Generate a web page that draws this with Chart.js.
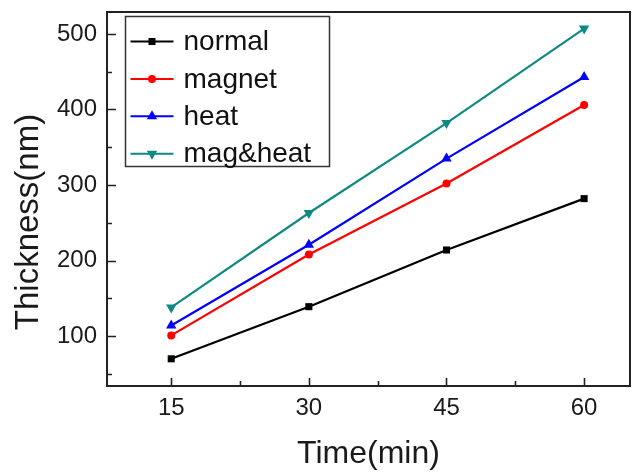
<!DOCTYPE html>
<html>
<head>
<meta charset="utf-8">
<script src="https://cdn.jsdelivr.net/npm/chart.js@4/dist/chart.umd.min.js"></script>
<style>
  html, body { margin: 0; padding: 0; background: #fff; }
  #wrap { width: 636px; height: 475px; }
</style>
</head>
<body>
<div id="wrap"><canvas id="thicknessChart" width="636" height="475"></canvas></div>
<script>
// data
const times = [15, 30, 45, 60];
const normal = [70, 139, 214, 282];
const magnet = [101, 208, 302, 406];
const heat = [114, 221, 335, 443];
const magHeat = [138, 263, 382, 507];

const xTicks = [15, 30, 45, 60];
const xMinor = [22.5, 37.5, 52.5];
const yTicks = [100, 200, 300, 400, 500];
const yMinor = [50, 150, 250, 350, 450];

const seriesNames = ['normal', 'magnet', 'heat', 'mag&heat'];

function toPoints(vals) {
    return times.map((t, i) => ({ x: t, y: vals[i] }));
}

// 마커 그리기 (legend 용)
function drawMarker(ctx, style, x, y, color) {
    ctx.save();
    ctx.fillStyle = color;
    ctx.beginPath();
    if (style === 'rect') {
        ctx.rect(x - 3.5, y - 3.5, 7, 7);
    } else if (style === 'circle') {
        ctx.arc(x, y, 4, 0, Math.PI * 2);
    } else if (style === 'up') {
        ctx.moveTo(x, y - 6);
        ctx.lineTo(x + 5.2, y + 3);
        ctx.lineTo(x - 5.2, y + 3);
    } else {
        ctx.moveTo(x, y + 6);
        ctx.lineTo(x + 5.2, y - 3);
        ctx.lineTo(x - 5.2, y - 3);
    }
    ctx.closePath();
    ctx.fill();
    ctx.restore();
}

const styles = ['rect', 'circle', 'up', 'down'];

// frame, inward ticks, y title and legend box
const framePlugin = {
    id: 'framePlugin',
    afterDraw(chart) {
        const ctx = chart.ctx;
        const a = chart.chartArea;
        const xs = chart.scales.x;
        const ys = chart.scales.y;
        ctx.save();
        ctx.strokeStyle = '#222';
        ctx.lineWidth = 2;
        ctx.strokeRect(a.left, a.top, a.right - a.left, a.bottom - a.top);

        ctx.lineWidth = 1.6;
        ctx.beginPath();
        xTicks.forEach(v => {
            const px = Math.round(xs.getPixelForValue(v)) + 0.5;
            ctx.moveTo(px, a.bottom); ctx.lineTo(px, a.bottom - 8);
        });
        xMinor.forEach(v => {
            const px = Math.round(xs.getPixelForValue(v)) + 0.5;
            ctx.moveTo(px, a.bottom); ctx.lineTo(px, a.bottom - 5);
        });
        yTicks.forEach(v => {
            const py = Math.round(ys.getPixelForValue(v)) + 0.5;
            ctx.moveTo(a.left, py); ctx.lineTo(a.left + 9, py);
        });
        yMinor.forEach(v => {
            const py = Math.round(ys.getPixelForValue(v)) + 0.5;
            ctx.moveTo(a.left, py); ctx.lineTo(a.left + 5, py);
        });
        ctx.stroke();

        // y axis title
        ctx.fillStyle = '#1a1a1a';
        ctx.font = '33px "Liberation Sans", Arial, sans-serif';
        ctx.textAlign = 'center';
        ctx.textBaseline = 'middle';
        ctx.translate(29, 222);
        ctx.rotate(-Math.PI / 2);
        ctx.fillText('Thickness(nm)', 0, 0);
        ctx.restore();

        // legend
        ctx.save();
        const bx = a.left + 18.5, by = a.top + 4.5;
        ctx.fillStyle = '#fff';
        ctx.fillRect(bx, by, 204, 150);
        ctx.strokeStyle = '#333';
        ctx.lineWidth = 1.5;
        ctx.strokeRect(bx, by, 204, 150);
        chart.data.datasets.forEach((ds, i) => {
            const ry = by + 25 + i * 37.4;
            ctx.strokeStyle = ds.borderColor;
            ctx.lineWidth = 2;
            ctx.beginPath();
            ctx.moveTo(bx + 5, ry); ctx.lineTo(bx + 48, ry);
            ctx.stroke();
            drawMarker(ctx, styles[i], bx + 26.5, ry, ds.borderColor);
            ctx.fillStyle = '#111';
            ctx.font = '28px "Liberation Sans", Arial, sans-serif';
            ctx.textAlign = 'left';
            ctx.textBaseline = 'middle';
            ctx.fillText(ds.label, bx + 58, ry + 1);
        });
        ctx.restore();
    }
};

const colors = ['#000000', '#ff0000', '#0000ff', '#0e8a84'];
const values = [normal, magnet, heat, magHeat];

const datasets = values.map((vals, i) => ({
    label: seriesNames[i],
    data: toPoints(vals),
    borderColor: colors[i],
    backgroundColor: colors[i],
    borderWidth: 2.2,
    pointStyle: i === 0 ? 'rect' : (i === 1 ? 'circle' : 'triangle'),
    pointRotation: i === 3 ? 180 : 0,
    pointRadius: i === 0 ? 5 : (i === 1 ? 4 : 6),
    pointBorderWidth: 0,
    fill: false,
    tension: 0
}));

const ctx = document.getElementById('thicknessChart').getContext('2d');
new Chart(ctx, {
    type: 'line',
    data: { datasets: datasets },
    options: {
        responsive: false,
        animation: false,
        layout: { padding: { top: 12, right: 4, left: 0, bottom: 0 } },
        plugins: {
            legend: { display: false },
            tooltip: { enabled: false }
        },
        scales: {
            x: {
                type: 'linear',
                min: 8,
                max: 65,
                afterBuildTicks: s => { s.ticks = xTicks.map(v => ({ value: v })); },
                afterFit: s => { s.height = 89; s.paddingLeft = 0; s.paddingRight = 0; },
                grid: { display: false },
                border: { display: false },
                ticks: {
                    color: '#1a1a1a',
                    padding: 0,
                    maxRotation: 0,
                    font: { family: '"Liberation Sans", Arial, sans-serif', size: 24 }
                },
                title: {
                    display: true,
                    text: 'Time(min)',
                    color: '#1a1a1a',
                    padding: { top: 0, bottom: 2 },
                    font: { family: '"Liberation Sans", Arial, sans-serif', size: 32 }
                }
            },
            y: {
                min: 34,
                max: 529,
                afterBuildTicks: s => { s.ticks = yTicks.map(v => ({ value: v })); },
                afterFit: s => { s.width = 107; s.paddingTop = 0; s.paddingBottom = 0; },
                grid: { display: false },
                border: { display: false },
                ticks: {
                    color: '#1a1a1a',
                    padding: 2,
                    font: { family: '"Liberation Sans", Arial, sans-serif', size: 24 }
                }
            }
        }
    },
    plugins: [framePlugin]
});
</script>
</body>
</html>
